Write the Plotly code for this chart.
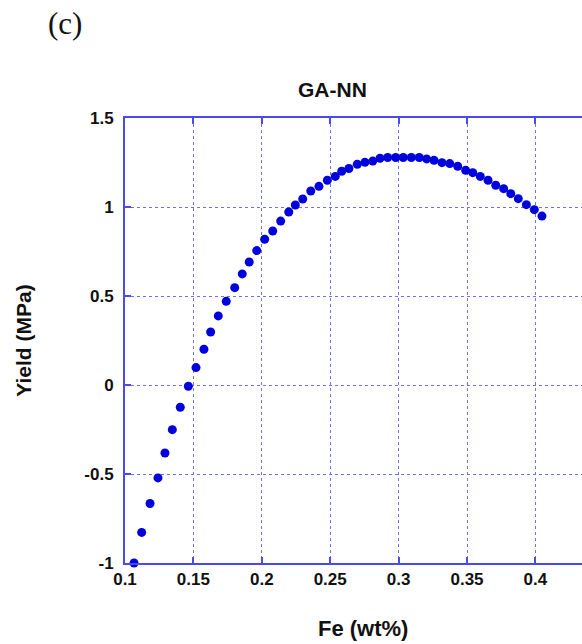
import plotly.graph_objects as go

fe = [0.1066, 0.1122, 0.1183, 0.1241, 0.1292, 0.1346, 0.1404, 0.1463, 0.1519, 0.1577,
      0.1626, 0.1682, 0.1740, 0.1802, 0.1857, 0.1908, 0.1963, 0.2021, 0.2080, 0.2138,
      0.2197, 0.2245, 0.2299, 0.2358, 0.2418, 0.2479, 0.2537, 0.2584, 0.2637, 0.2698,
      0.2754, 0.2811, 0.2864, 0.2920, 0.2979, 0.3034, 0.3093, 0.3151, 0.3205, 0.3259,
      0.3317, 0.3374, 0.3432, 0.3490, 0.3542, 0.3597, 0.3654, 0.3710, 0.3768, 0.3820,
      0.3875, 0.3934, 0.3992, 0.4048]
yield_mpa = [-1.000, -0.828, -0.666, -0.522, -0.382, -0.251, -0.125, -0.007, 0.098, 0.201,
             0.298, 0.388, 0.470, 0.547, 0.624, 0.691, 0.755, 0.819, 0.865, 0.921,
             0.972, 1.011, 1.045, 1.090, 1.116, 1.150, 1.172, 1.201, 1.216, 1.240,
             1.251, 1.258, 1.274, 1.278, 1.278, 1.278, 1.278, 1.278, 1.270, 1.262,
             1.249, 1.244, 1.229, 1.206, 1.193, 1.172, 1.150, 1.122, 1.103, 1.075,
             1.047, 1.013, 0.985, 0.949]

x_ticks = [0.1, 0.15, 0.2, 0.25, 0.3, 0.35, 0.4]
x_ticktext = ["0.1", "0.15", "0.2", "0.25", "0.3", "0.35", "0.4"]
y_ticks = [-1, -0.5, 0, 0.5, 1, 1.5]
y_ticktext = ["-1", "-0.5", "0", "0.5", "1", "1.5"]

AX = "#4a4af0"
GRID = "#7070ff"
FONT = "Liberation Sans, Arial, sans-serif"
TXT = "#111"

fig = go.Figure()
fig.add_trace(go.Scatter(
    x=fe, y=yield_mpa, mode="markers",
    marker=dict(color="#0000dd", size=9, line=dict(width=0)),
    showlegend=False, cliponaxis=False,
))

x_min, x_max = 0.1, 0.1 + 457 / 1368

fig.update_layout(
    width=582, height=644,
    margin=dict(l=125, r=0, t=118, b=81),
    paper_bgcolor="white", plot_bgcolor="white",
    font=dict(family=FONT, color=TXT),
    xaxis=dict(
        range=[x_min, x_max], tickvals=x_ticks,
        ticktext=["<b>%s</b>" % t for t in x_ticktext],
        showline=True, linecolor=AX, linewidth=2, mirror="ticks",
        ticks="inside", ticklen=6, tickwidth=2, tickcolor=AX,
        showgrid=True, gridcolor=GRID, gridwidth=1, griddash="dot",
        zeroline=False,
        tickfont=dict(family=FONT, size=17, color=TXT),
    ),
    yaxis=dict(
        range=[-1, 1.5], tickvals=y_ticks,
        ticktext=["<b>%s</b>" % t for t in y_ticktext],
        showline=True, linecolor=AX, linewidth=2, mirror=False,
        ticks="inside", ticklen=6, tickwidth=2, tickcolor=AX,
        showgrid=True, gridcolor=GRID, gridwidth=1, griddash="dot",
        zeroline=False,
        tickfont=dict(family=FONT, size=17, color=TXT),
        ticklabelstandoff=6,
        title=dict(text="<b>Yield (MPa)</b>", font=dict(family=FONT, size=21, color=TXT), standoff=47),
    ),
)

fig.add_annotation(
    text="<b>Fe (wt%)</b>", xref="paper", yref="paper",
    x=(363 - 125) / 457, y=0, yshift=-65, showarrow=False,
    font=dict(family=FONT, size=22, color=TXT), xanchor="center", yanchor="middle",
)
fig.add_annotation(
    text="<b>GA-NN</b>", xref="paper", yref="paper",
    x=(332 - 125) / 457, y=1, yshift=29, showarrow=False,
    font=dict(family=FONT, size=21, color=TXT), xanchor="center", yanchor="middle",
)
fig.add_annotation(
    text="(c)", xref="paper", yref="paper",
    x=(65 - 125) / 457, y=1, yshift=95, showarrow=False,
    font=dict(family="Liberation Serif, Times New Roman, serif", size=31, color=TXT),
    xanchor="center", yanchor="middle",
)
fig.add_annotation(
    text="<b>0.45</b>", xref="paper", yref="paper",
    x=(601 - 125) / 457, y=0, yshift=-14, showarrow=False,
    font=dict(family=FONT, size=17, color=TXT), xanchor="center", yanchor="middle",
)

fig.write_html("out.html")
